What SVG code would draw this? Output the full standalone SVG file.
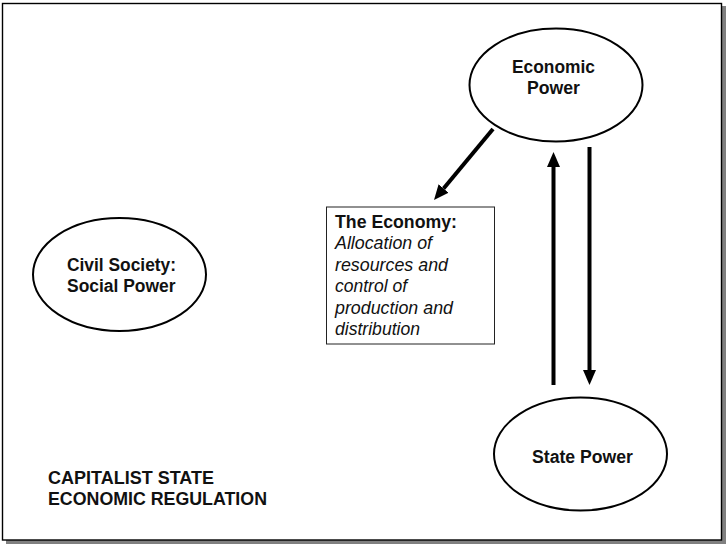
<svg xmlns="http://www.w3.org/2000/svg" width="726" height="544" viewBox="0 0 726 544">
  <defs>
    <style>
      .node { fill: #fff; stroke: #000; stroke-width: 2; }
      .lbl { font-family: "Liberation Sans", Arial, sans-serif; font-size: 17.5px; font-weight: bold; fill: #111; }
      .it { font-family: "Liberation Sans", Arial, sans-serif; font-size: 17.5px; font-style: italic; fill: #111; }
      .conn { stroke: #000; stroke-width: 4; fill: none; }
    </style>
    <marker id="ah" viewBox="0 0 15 13" refX="0" refY="6.5" markerWidth="15" markerHeight="13" markerUnits="userSpaceOnUse" orient="auto">
      <path d="M0,0 L15,6.5 L0,13 z" fill="#000"/>
    </marker>
  </defs>

  <g id="frame">
    <rect x="6" y="6" width="720" height="538" fill="#808080"/>
    <rect x="2.5" y="3.5" width="719" height="536.5" fill="#fff" stroke="#000" stroke-width="1.4"/>
  </g>

  <g id="economic-power">
    <ellipse class="node" cx="556" cy="85" rx="86.5" ry="56.5"/>
    <text class="lbl" x="512" y="73" textLength="83" lengthAdjust="spacingAndGlyphs">Economic</text>
    <text class="lbl" x="527" y="94" textLength="53" lengthAdjust="spacingAndGlyphs">Power</text>
  </g>

  <g id="civil-society">
    <ellipse class="node" cx="119.5" cy="274.5" rx="86.5" ry="56.5"/>
    <text class="lbl" x="67" y="271" textLength="109" lengthAdjust="spacingAndGlyphs">Civil Society:</text>
    <text class="lbl" x="67" y="292" textLength="108.5" lengthAdjust="spacingAndGlyphs">Social Power</text>
  </g>

  <g id="state-power">
    <ellipse class="node" cx="580.5" cy="454" rx="86.5" ry="56.5"/>
    <text class="lbl" x="532" y="463" textLength="101" lengthAdjust="spacingAndGlyphs">State Power</text>
  </g>

  <g id="the-economy">
    <rect x="326.5" y="207" width="168" height="137" fill="#fff" stroke="#222" stroke-width="1"/>
    <text class="lbl" x="335" y="228" textLength="122" lengthAdjust="spacingAndGlyphs">The Economy:</text>
    <text class="it" x="335" y="249" textLength="97" lengthAdjust="spacingAndGlyphs">Allocation of</text>
    <text class="it" x="335" y="270.5" textLength="113" lengthAdjust="spacingAndGlyphs">resources and</text>
    <text class="it" x="335" y="292" textLength="72" lengthAdjust="spacingAndGlyphs">control of</text>
    <text class="it" x="335" y="313.5" textLength="118" lengthAdjust="spacingAndGlyphs">production and</text>
    <text class="it" x="335" y="335" textLength="85" lengthAdjust="spacingAndGlyphs">distribution</text>
  </g>

  <g id="caption">
    <text class="lbl" x="48" y="484" textLength="166" lengthAdjust="spacingAndGlyphs">CAPITALIST STATE</text>
    <text class="lbl" x="48" y="505" textLength="219" lengthAdjust="spacingAndGlyphs">ECONOMIC REGULATION</text>
  </g>

  <g id="connectors">
    <line class="conn" x1="493" y1="129" x2="443.6" y2="188.5" marker-end="url(#ah)"/>
    <line class="conn" x1="553.5" y1="385" x2="553.5" y2="167" marker-end="url(#ah)"/>
    <line class="conn" x1="589.5" y1="147" x2="589.5" y2="370" marker-end="url(#ah)"/>
  </g>
</svg>
